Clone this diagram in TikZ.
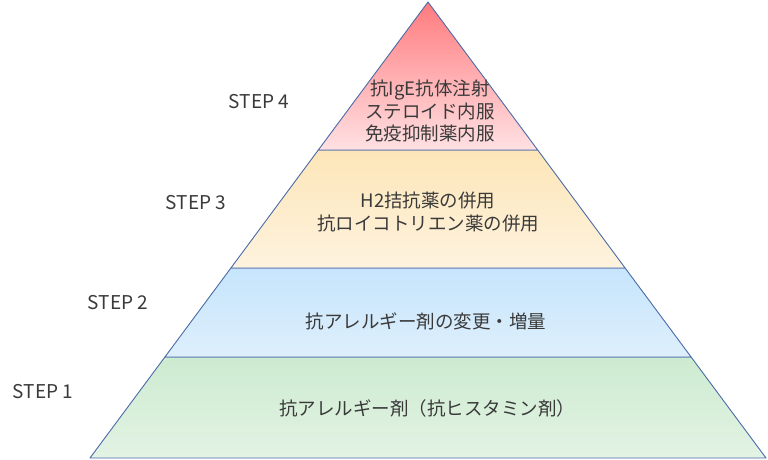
\documentclass[tikz,border=0pt]{standalone}
\usepackage{fontspec}
\setmainfont{Noto Sans CJK JP}
\definecolor{edge}{HTML}{4A6AA8}
\definecolor{txt}{HTML}{3A3A3A}
\definecolor{rT}{HTML}{FF7B7E}
\definecolor{rB}{HTML}{FFE1E3}
\definecolor{yT}{HTML}{FDE6B8}
\definecolor{yB}{HTML}{FEF3DF}
\definecolor{bT}{HTML}{C6E5FC}
\definecolor{bB}{HTML}{DEEFFC}
\definecolor{gT}{HTML}{CDEBD0}
\definecolor{gB}{HTML}{E3F3E4}
\tikzset{
  band/.style={draw=edge, line width=0.9pt, line join=round},
  bandtext/.style={text=txt, font=\fontsize{18.5}{22.5}\selectfont, align=center, inner sep=0pt},
  steplabel/.style={text=txt, font=\fontsize{19}{22}\selectfont, inner sep=0pt}
}
\begin{document}
\begin{tikzpicture}[x=1pt,y=-1pt]
\useasboundingbox (0,0) rectangle (768,460);
% apex (428,2), slope 0.741 px per px
\coordinate (A) at (428,2);
\coordinate (L1) at (318.3,150); \coordinate (R1) at (537.7,150);
\coordinate (L2) at (230.9,268); \coordinate (R2) at (625.1,268);
\coordinate (L3) at (164.9,357); \coordinate (R3) at (691.1,357);
\coordinate (L4) at (90,458); \coordinate (R4) at (766,458);
\path[band, top color=gT, bottom color=gB] (L3) -- (R3) -- (R4) -- (L4) -- cycle;
\path[band, top color=bT, bottom color=bB] (L2) -- (R2) -- (R3) -- (L3) -- cycle;
\path[band, top color=yT, bottom color=yB] (L1) -- (R1) -- (R2) -- (L2) -- cycle;
\path[band, top color=rT, bottom color=rB] (A) -- (R1) -- (L1) -- cycle;
\node[bandtext] (t4) at (430,111) {抗IgE抗体注射\\ステロイド内服\\免疫抑制薬内服};
\node[bandtext] (t3) at (428,212) {H2拮抗薬の併用\\抗ロイコトリエン薬の併用};
\node[bandtext] (t2) at (426,321) {抗アレルギー剤の変更・増量};
\node[bandtext] (t1) at (427,408) {抗アレルギー剤（抗ヒスタミン剤）};
\node[steplabel] (s4) at (259,102) {STEP 4};
\node[steplabel] (s3) at (196,203) {STEP 3};
\node[steplabel] (s2) at (118,303) {STEP 2};
\node[steplabel] (s1) at (43,392) {STEP 1};
\end{tikzpicture}
\end{document}
